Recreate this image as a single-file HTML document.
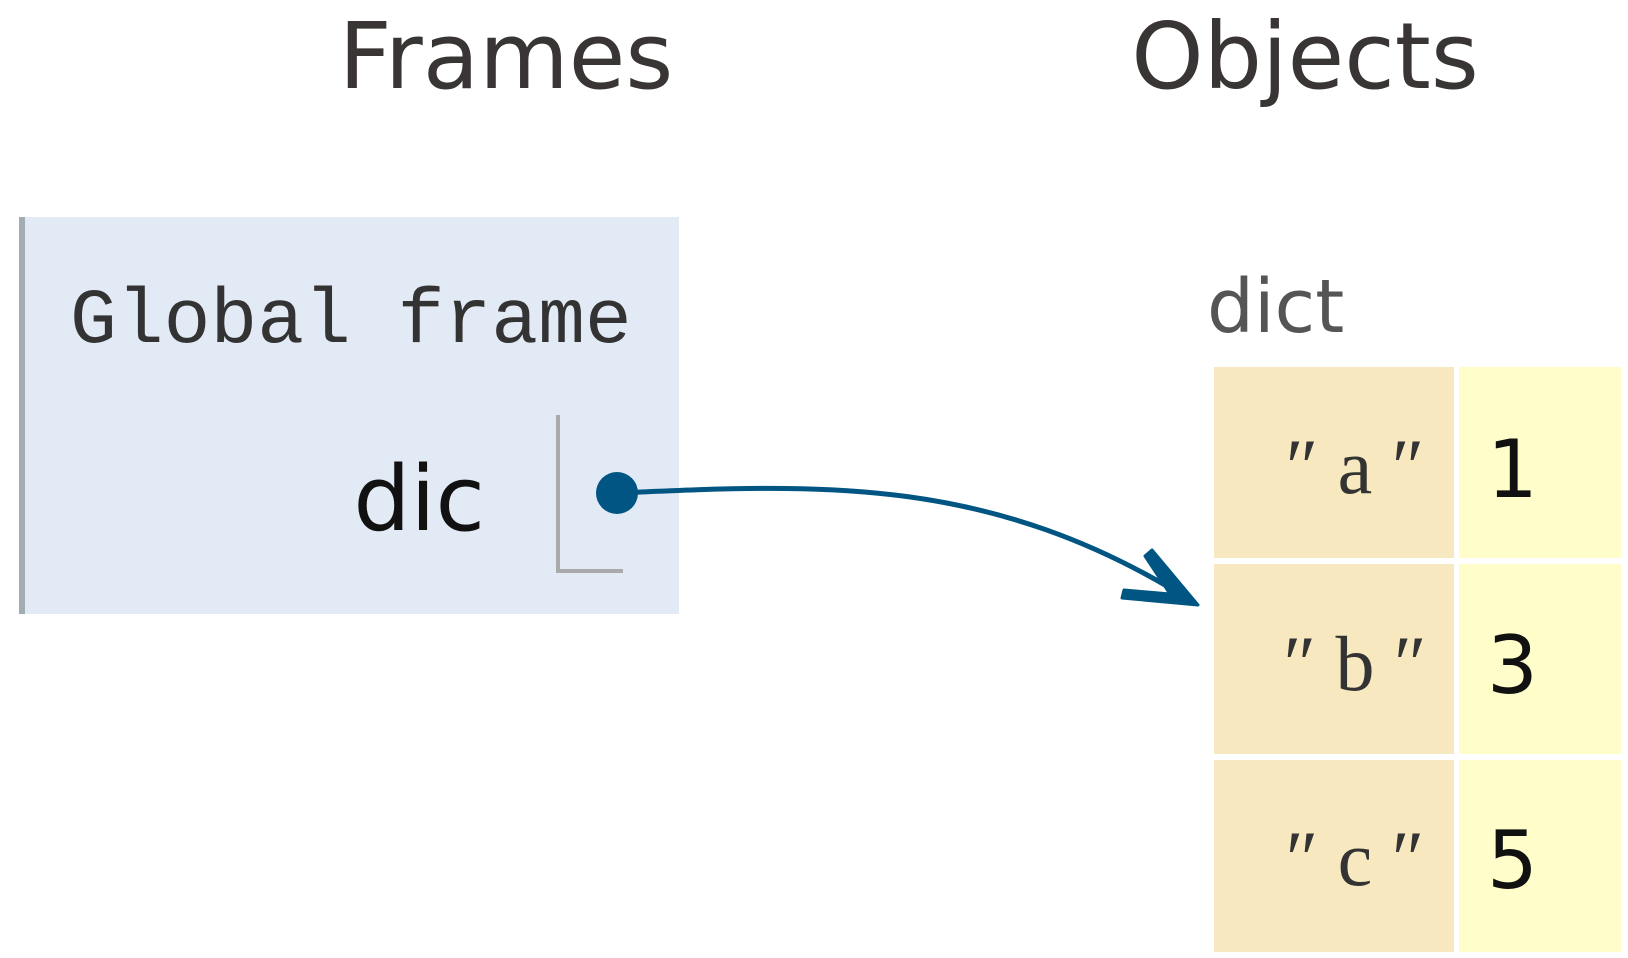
<!DOCTYPE html>
<html><head><meta charset="utf-8"><style>
html,body{margin:0;padding:0;background:#fff;}
body{width:1628px;height:958px;position:relative;overflow:hidden;}
svg{position:absolute;left:0;top:0;}
</style></head><body>
<svg width="1628" height="958" viewBox="0 0 1628 958">
  <text x="506" y="88" text-anchor="middle" font-family="DejaVu Sans, sans-serif" font-size="92" fill="#3a3535">Frames</text>
  <text x="1305" y="88" text-anchor="middle" font-family="DejaVu Sans, sans-serif" font-size="92" fill="#3a3535">Objects</text>

  <rect x="21" y="217" width="658" height="397" fill="#e2eaf5"/>
  <rect x="19" y="217" width="6" height="397" fill="#a3acb3"/>
  <text x="70" y="342" font-family="Liberation Mono, monospace" font-size="78" fill="#333">Global frame</text>
  <text x="485" y="530" text-anchor="end" font-family="DejaVu Sans, sans-serif" font-size="90" fill="#111">dic</text>
  <polyline points="558,415 558,571 623,571" fill="none" stroke="#aaa" stroke-width="4"/>

  <circle cx="617" cy="493" r="21" fill="#005583"/>
  <path d="M617 493 C 820 484, 990 475, 1190 600" fill="none" stroke="#005583" stroke-width="5"/>
  <path d="M1198 605 L1122 598 L1124 590 L1170 594 L1145 556 L1152 550 Z" fill="#005583" stroke="#005583" stroke-width="3" stroke-linejoin="round"/>

  <text x="1207" y="332" font-family="DejaVu Sans, sans-serif" font-size="74" fill="#555">dict</text>

  <rect x="1214" y="367" width="240" height="191" fill="#f8e8c0"/>
  <rect x="1459" y="367" width="162" height="191" fill="#fffecb"/>
  <rect x="1214" y="564" width="240" height="190" fill="#f8e8c0"/>
  <rect x="1459" y="564" width="162" height="190" fill="#fffecb"/>
  <rect x="1214" y="760" width="240" height="192" fill="#f8e8c0"/>
  <rect x="1459" y="760" width="162" height="192" fill="#fffecb"/>

  <g font-family="Liberation Serif, serif" font-size="78" fill="#333" text-anchor="middle">
    <text x="1355" y="493">″ a ″</text>
    <text x="1355" y="690">″ b ″</text>
    <text x="1355" y="885">″ c ″</text>
  </g>
  <g font-family="DejaVu Sans, sans-serif" font-size="80" fill="#111">
    <text x="1487" y="497">1</text>
    <text x="1487" y="693">3</text>
    <text x="1487" y="888">5</text>
  </g>
</svg>
</body></html>
